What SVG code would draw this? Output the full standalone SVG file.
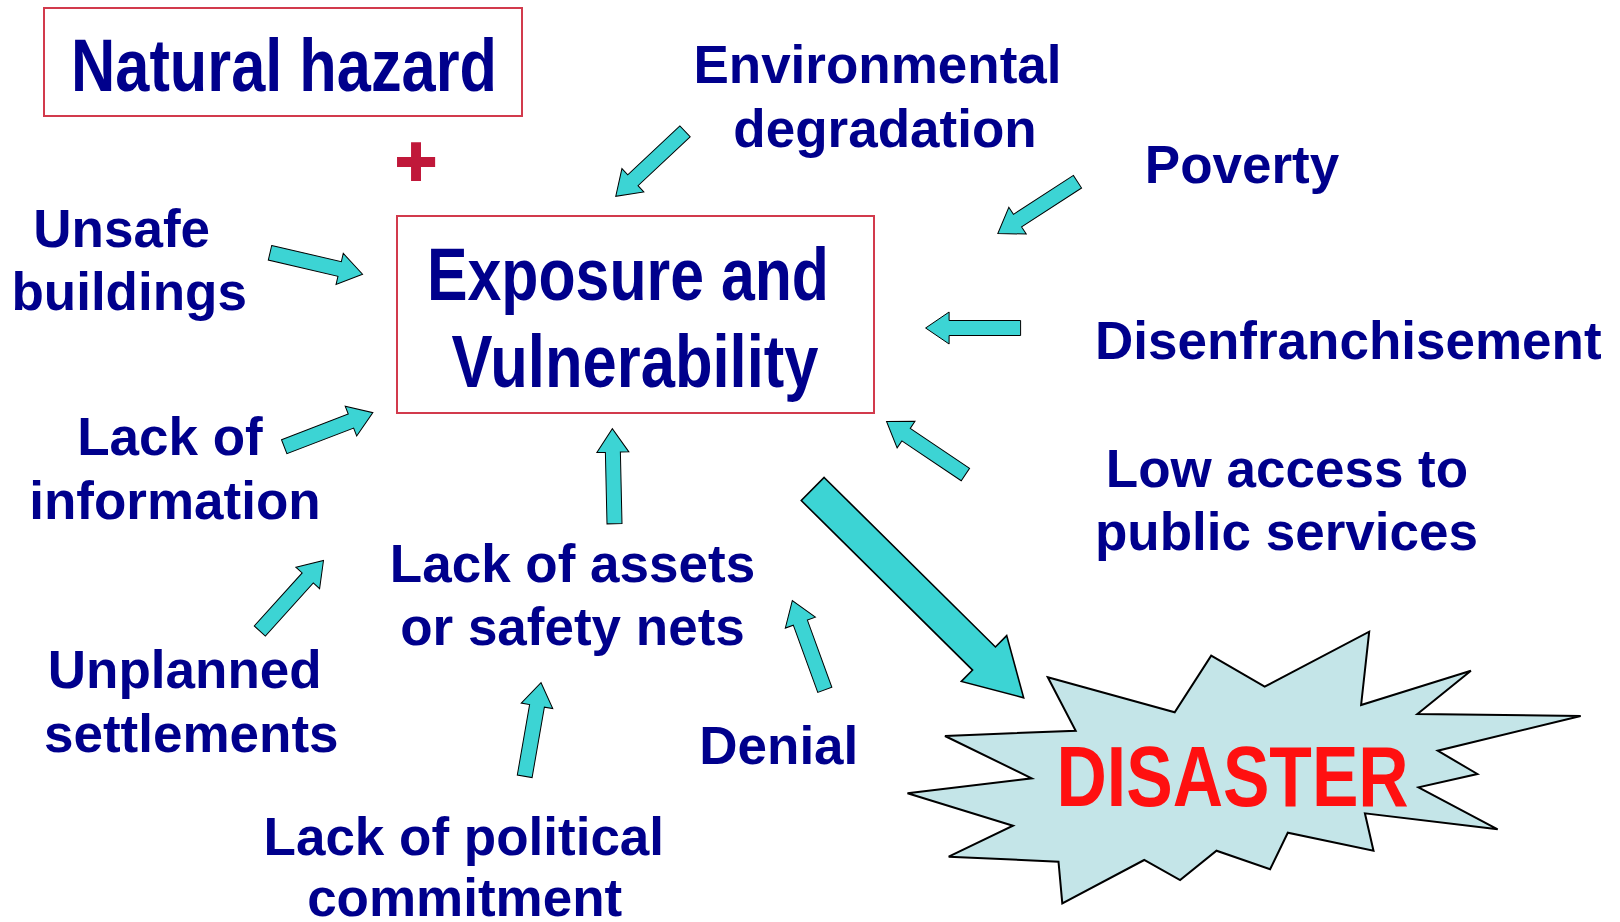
<svg xmlns="http://www.w3.org/2000/svg" xmlns:xlink="http://www.w3.org/1999/xlink" width="1620" height="922" viewBox="0 0 1620 922">
<style>
.lbl{font-family:"Liberation Sans",Arial,sans-serif;font-weight:bold;font-size:53px;fill:#00008C;text-anchor:middle}
.big{font-family:"Liberation Sans",Arial,sans-serif;font-weight:bold;fill:#00008C;text-anchor:middle}
.box{fill:#FFFFFF;stroke:#D23A4C;stroke-width:2}
.arr{fill:#3CD4D4;stroke:#000000;stroke-width:1;stroke-linejoin:miter}
.bigarr{fill:#3CD4D4;stroke:#000000;stroke-width:1.6}
.burst{fill:#C4E5E8;stroke:#000000;stroke-width:2}
</style>
<defs>
<polygon id="a" class="arr" points="0,-7.5 71.5,-7.5 71.5,-16 95,0 71.5,16 71.5,7.5 0,7.5"/>
</defs>
<rect width="1620" height="922" fill="#FFFFFF"/>

<g id="natural-hazard">
<rect class="box" x="44" y="8" width="478" height="108"/>
<text class="big" x="284" y="91" font-size="75" textLength="426" lengthAdjust="spacingAndGlyphs">Natural hazard</text>
</g>

<g id="plus">
<text x="416" y="186" font-family="Liberation Sans,Arial,sans-serif" font-weight="bold" font-size="72" fill="#C0183A" stroke="#C0183A" stroke-width="2" text-anchor="middle">+</text>
</g>

<g id="exposure-vulnerability">
<rect class="box" x="397" y="216" width="477" height="197"/>
<text class="big" x="628" y="300" font-size="74" textLength="402" lengthAdjust="spacingAndGlyphs">Exposure and</text>
<text class="big" x="635" y="387" font-size="74" textLength="367" lengthAdjust="spacingAndGlyphs">Vulnerability</text>
</g>

<g id="environmental-degradation">
<text class="lbl" x="877.5" y="83">Environmental</text>
<text class="lbl" x="885" y="147">degradation</text>
</g>

<g id="poverty">
<text class="lbl" x="1242" y="183">Poverty</text>
</g>

<g id="unsafe-buildings">
<text class="lbl" x="121.7" y="246.7">Unsafe</text>
<text class="lbl" x="129.2" y="310">buildings</text>
</g>

<g id="disenfranchisement">
<text class="lbl" x="1348.3" y="359.3">Disenfranchisement</text>
</g>

<g id="lack-of-information">
<text class="lbl" x="170" y="455">Lack of</text>
<text class="lbl" x="175" y="518.5">information</text>
</g>

<g id="low-access">
<text class="lbl" x="1287" y="486.7">Low access to</text>
<text class="lbl" x="1286.5" y="550">public services</text>
</g>

<g id="lack-of-assets">
<text class="lbl" x="572.5" y="581.7">Lack of assets</text>
<text class="lbl" x="572.5" y="645">or safety nets</text>
</g>

<g id="unplanned-settlements">
<text class="lbl" x="184.7" y="688.3">Unplanned</text>
<text class="lbl" x="191.3" y="751.7">settlements</text>
</g>

<g id="denial">
<text class="lbl" x="778.8" y="764">Denial</text>
</g>

<g id="lack-of-political-commitment">
<text class="lbl" x="463.8" y="855">Lack of political</text>
<text class="lbl" x="464.7" y="916">commitment</text>
</g>

<g id="disaster">
<polygon class="burst" points="1047.8,677.3 1174.7,712.3 1211.2,655.7 1264.7,686.7 1369.2,631.7 1361.1,705 1470.9,670.7 1417.4,714 1580.7,716 1437.7,750.7 1477.4,774 1418.5,787.3 1497.7,829.3 1364.9,813.3 1373.5,850.7 1287.8,832.7 1270.1,869.3 1216.5,850.7 1180.1,880 1144.2,860 1062.3,903.3 1058.5,861.7 948.7,856.7 1013,825.7 907.5,793.3 1031.7,778.3 945,736 1075.7,730.7"/>
<text x="1232.6" y="805.7" font-family="Liberation Sans,Arial,sans-serif" font-weight="bold" font-size="85" fill="#FF1010" text-anchor="middle" textLength="352" lengthAdjust="spacingAndGlyphs">DISASTER</text>
</g>

<g id="connectors">
<use xlink:href="#a" href="#a" transform="translate(685,131.3) rotate(136.8)"/>
<use xlink:href="#a" href="#a" transform="translate(1077.5,181.7) rotate(147)"/>
<use xlink:href="#a" href="#a" transform="translate(270,252.8) rotate(13.06)"/>
<use xlink:href="#a" href="#a" transform="translate(1020.6,328) rotate(180)"/>
<use xlink:href="#a" href="#a" transform="translate(284.2,446.7) rotate(-21)"/>
<use xlink:href="#a" href="#a" transform="translate(965.4,474.5) rotate(213.9)"/>
<use xlink:href="#a" href="#a" transform="translate(614.5,523.7) rotate(-91.3)"/>
<use xlink:href="#a" href="#a" transform="translate(259.8,631) rotate(-47.9)"/>
<use xlink:href="#a" href="#a" transform="translate(524.7,776.3) rotate(-80.1)"/>
<use xlink:href="#a" href="#a" transform="translate(824.8,689.8) rotate(-110)"/>
<polygon class="bigarr" transform="translate(812.7,489) rotate(44.7)" points="0,-16.25 241,-16.25 241,-32.25 296.8,0 241,32.25 241,16.25 0,16.25"/>
</g>
</svg>
